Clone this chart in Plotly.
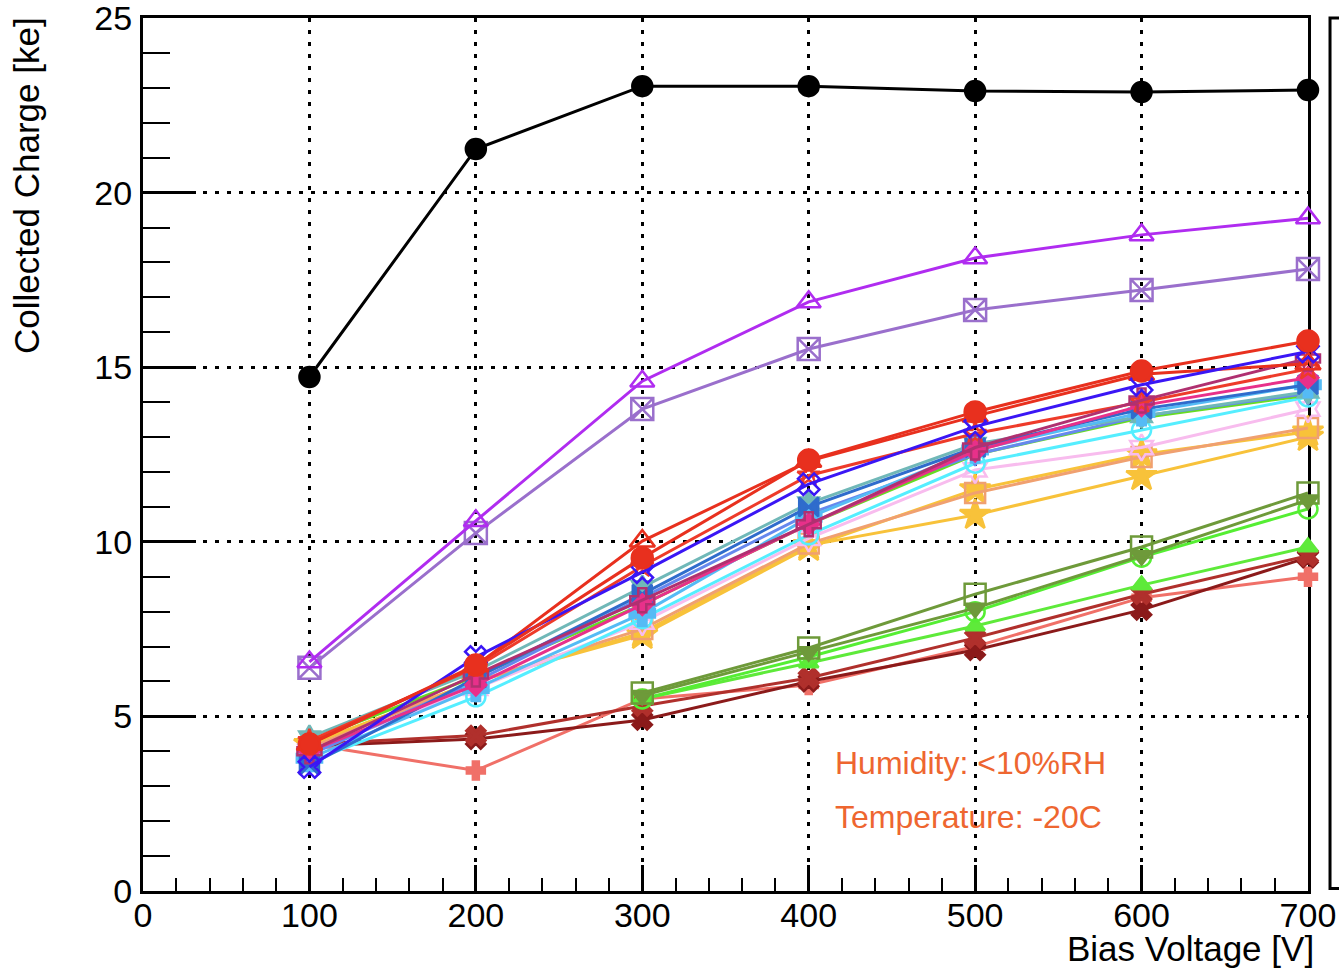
import plotly.graph_objects as go

# ---------------- data ----------------
voltages = [100, 200, 300, 400, 500, 600, 700]

x_tick_vals = [0, 100, 200, 300, 400, 500, 600, 700]
y_tick_vals = [0, 5, 10, 15, 20, 25]

ref_black = [14.72, 21.25, 23.05, 23.05, 22.91, 22.88, 22.94]
purple_tri = [6.56, 10.60, 14.60, 16.87, 18.13, 18.79, 19.27]
lavender_sq = [6.39, 10.25, 13.80, 15.52, 16.64, 17.21, 17.81]

salmon_cross = [4.20, 3.45, 5.50, 5.90, 7.00, 8.40, 9.00]
maroon_x = [4.15, 4.35, 4.90, 6.00, 6.90, 8.05, 9.55]
darkred_x = [4.20, 4.45, 5.30, 6.10, 7.25, 8.50, 9.60]
green_tri = [None, None, 5.50, 6.53, 7.59, 8.76, 9.85]
green_circ = [None, None, 5.50, 6.70, 8.00, 9.56, 10.94]
olive_tri = [None, None, 5.60, 6.85, 8.10, 9.60, 11.20]
olive_sq = [None, None, 5.67, 6.96, 8.50, 9.85, 11.40]

gold_star_low = [4.20, 6.00, 7.40, 9.90, 10.77, 11.88, 13.00]
gold_star = [4.20, 6.00, 7.33, 9.85, 11.50, 12.50, 13.15]
sandy_sq = [4.10, 6.00, 7.50, 9.95, 11.40, 12.43, 13.26]
pink_light = [4.00, 5.80, 7.70, 10.10, 12.06, 12.70, 13.80]
cyan_circ = [3.70, 5.56, 7.80, 10.20, 12.25, 13.20, 14.15]
lime_line = [4.30, 6.15, 8.20, 10.50, 12.50, 13.55, 14.20]
cornflower = [3.90, 6.00, 8.40, 10.80, 12.50, 13.60, 14.25]
teal = [4.40, 6.30, 8.70, 11.10, 12.80, 13.60, 14.30]
lightblue_cross = [3.80, 5.80, 7.95, 10.70, 12.63, 13.70, 14.50]
steel_bowtie = [3.60, 6.10, 8.50, 11.00, 12.70, 13.80, 14.50]
pink_diam = [4.00, 5.90, 8.20, 10.50, 12.60, 13.90, 14.70]
red_star = [4.30, 6.40, 9.30, 11.90, 13.10, 14.00, 14.95]
magenta_cross = [4.00, 6.20, 8.33, 10.50, 12.70, 14.05, 15.25]
red_tri = [4.20, 6.45, 10.02, 12.31, 13.60, 14.80, 15.10]
blue_x = [3.55, 6.70, 9.13, 11.65, 13.30, 14.50, 15.45]
red_circ = [4.21, 6.47, 9.54, 12.34, 13.72, 14.89, 15.75]

series = [
    ("salmon_cross", salmon_cross),
    ("maroon_x", maroon_x),
    ("darkred_x", darkred_x),
    ("green_tri", green_tri),
    ("green_circ", green_circ),
    ("olive_tri", olive_tri),
    ("olive_sq", olive_sq),
    ("gold_star_low", gold_star_low),
    ("gold_star", gold_star),
    ("sandy_sq", sandy_sq),
    ("pink_light", pink_light),
    ("cyan_circ", cyan_circ),
    ("lime_line", lime_line),
    ("cornflower", cornflower),
    ("teal", teal),
    ("lightblue_cross", lightblue_cross),
    ("steel_bowtie", steel_bowtie),
    ("pink_diam", pink_diam),
    ("red_star", red_star),
    ("magenta_cross", magenta_cross),
    ("red_tri", red_tri),
    ("blue_x", blue_x),
    ("red_circ", red_circ),
    ("lavender_sq", lavender_sq),
    ("purple_tri", purple_tri),
    ("ref_black", ref_black),
]

# ---------------- styles ----------------
styles = {
    "salmon_cross": ("#f07068", "cross", 15),
    "maroon_x": ("#8b1a1a", "x", 17),
    "darkred_x": ("#b0302c", "x", 17),
    "green_tri": ("#5eea3a", "triangle-up", 17),
    "green_circ": ("#55ee33", "circle-open", 19),
    "olive_tri": ("#6e9a3a", "triangle-down", 18),
    "olive_sq": ("#6e9a3a", "square-open", 21),
    "gold_star_low": ("#f8c23a", "star", 23),
    "gold_star": ("#f8c23a", "star", 23),
    "sandy_sq": ("#f0a070", "square-open", 20),
    "pink_light": ("#f8bcee", "hexagram-open", 20),
    "cyan_circ": ("#55eeff", "circle-open", 19),
    "lime_line": ("#66dd22", "triangle-down", 15),
    "cornflower": ("#6688ee", "diamond-tall", 16),
    "teal": ("#70b8b8", "hexagram", 18),
    "lightblue_cross": ("#55bbf5", "cross", 21),
    "steel_bowtie": ("#2f6ccc", "bowtie", 19),
    "pink_diam": ("#e8308a", "diamond", 16),
    "red_star": ("#ee3b2a", "star-open", 17),
    "magenta_cross": ("#b03070", "cross-open", 20),
    "red_tri": ("#e8301e", "triangle-up-open", 22),
    "blue_x": ("#3a16f5", "x-open", 19),
    "red_circ": ("#e8301e", "circle", 21),
    "lavender_sq": ("#9a6fcc", "square-x-open", 22),
    "purple_tri": ("#b02cf0", "triangle-up-open", 21),
    "ref_black": ("#000000", "circle", 20),
}

FONT = "Liberation Sans, Arial, Helvetica, sans-serif"

fig = go.Figure()
for name, vals in series:
    color, symbol, size = styles[name]
    fig.add_trace(go.Scatter(
        x=voltages, y=vals, mode="lines+markers", name=name,
        line=dict(color=color, width=3),
        marker=dict(color=color, symbol=symbol, size=size,
                    line=dict(color=color, width=2.5)),
        cliponaxis=False, showlegend=False, connectgaps=False,
    ))

axis_common = dict(
    showline=True, linecolor="black", linewidth=3, mirror=True,
    ticks="inside", tickcolor="black", tickwidth=2.5,
    showgrid=True, gridcolor="black", gridwidth=3, griddash="4px,8px",
    zeroline=False, layer="below traces", ticklabeloverflow="allow",
    automargin=False,
    tickfont=dict(family=FONT, size=34, color="black"),
)

fig.update_xaxes(
    range=[0, 700.01], tickmode="array", tickvals=x_tick_vals,
    ticktext=[str(v) for v in x_tick_vals], ticklen=26,
    ticklabelstandoff=-8,
    minor=dict(ticks="inside", ticklen=13, dtick=20, tick0=0,
               tickcolor="black", tickwidth=2, showgrid=False),
    **axis_common,
)
fig.update_yaxes(
    range=[0, 25.001], tickmode="array", tickvals=y_tick_vals,
    ticktext=[str(v) for v in y_tick_vals], ticklen=53,
    ticklabelstandoff=1,
    minor=dict(ticks="inside", ticklen=27, dtick=1, tick0=0,
               tickcolor="black", tickwidth=2, showgrid=False),
    **axis_common,
)

annotations = [
    dict(text="Collected Charge [ke]", xref="paper", yref="paper",
         x=-0.1005, y=1.004, xanchor="center", yanchor="top", textangle=-90,
         showarrow=False, font=dict(family=FONT, size=35, color="black")),
    dict(text="Bias Voltage [V]", xref="paper", yref="paper",
         x=1.007, y=-0.0653, xanchor="right", yanchor="middle",
         showarrow=False, font=dict(family=FONT, size=35, color="black")),
    dict(text="Humidity: <10%RH", xref="paper", yref="paper",
         x=0.5923, y=0.1466, xanchor="left", yanchor="middle",
         showarrow=False, font=dict(family=FONT, size=32, color="#ee6630")),
    dict(text="Temperature: -20C", xref="paper", yref="paper",
         x=0.5923, y=0.0848, xanchor="left", yanchor="middle",
         showarrow=False, font=dict(family=FONT, size=32, color="#ee6630")),
]

shapes = [
    dict(type="rect", xref="paper", yref="paper",
         x0=1.0189, x1=1.2, y0=0.003, y1=1.0,
         line=dict(color="black", width=3), fillcolor="rgba(0,0,0,0)"),
]

fig.update_layout(
    width=1339, height=970,
    margin=dict(l=143, r=31, t=18, b=79, pad=0, autoexpand=False),
    paper_bgcolor="white", plot_bgcolor="white",
    annotations=annotations, shapes=shapes,
    font=dict(family=FONT),
)

fig.write_html(
    "out.html",
    config={"displayModeBar": False},
    post_script=(
        "document.body.style.margin='0';"
        "document.body.style.overflow='hidden';"
    ),
)
